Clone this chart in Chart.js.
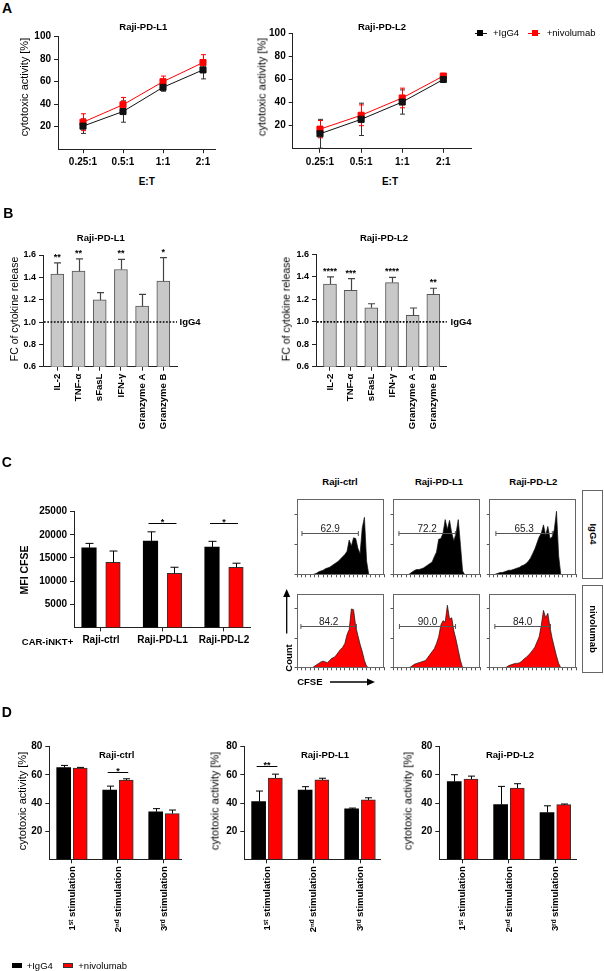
<!DOCTYPE html>
<html><head><meta charset="utf-8"><title>Figure</title>
<script src="https://cdn.jsdelivr.net/npm/chart.js@4.4.1/dist/chart.umd.min.js"></script>
<style>
html,body{margin:0;padding:0;background:#fff}
body{width:604px;height:971px;position:relative;overflow:hidden;font-family:"Liberation Sans",Arial,sans-serif;color:#000}
.t{position:absolute;white-space:nowrap;line-height:1}
canvas{position:absolute}
.frame{position:absolute;border:1px solid #666;box-sizing:border-box}
.sw{position:absolute}
</style></head><body>
<script>
// ---------------- DATA ----------------
const ratioLabels = ['0.25:1', '0.5:1', '1:1', '2:1'];
const aL1IgG4 = [20.5, 33.5, 55, 70.5];
const aL1IgG4Sd = [6.5, 9.5, 3.5, 8];
const aL1Nivo = [24, 39.5, 60, 77];
const aL1NivoSd = [7.5, 6.5, 5, 7];
const aL2IgG4 = [13, 25.5, 40.5, 60];
const aL2IgG4Sd = [12.5, 14, 10.5, 2];
const aL2Nivo = [17, 29, 44, 63];
const aL2NivoSd = [7.5, 9, 8.5, 1.2];
const aTicks = [20, 40, 60, 80, 100];

const cytokines = ['IL-2', 'TNF-α', 'sFasL', 'IFN-γ', 'Granzyme A', 'Granzyme B'];
const bL1Fc = [1.43, 1.455, 1.198, 1.47, 1.142, 1.366];
const bL1Sd = [0.1, 0.11, 0.065, 0.09, 0.105, 0.21];
const bL1Sig = ['**', '**', '', '**', '', '*'];
const bL2Fc = [1.337, 1.28, 1.125, 1.35, 1.057, 1.245];
const bL2Sd = [0.063, 0.105, 0.036, 0.047, 0.066, 0.054];
const bL2Sig = ['****', '***', '', '****', '', '**'];
const bTicks = [0.6, 0.8, 1.0, 1.2, 1.4, 1.6];

const targets = ['Raji-ctrl', 'Raji-PD-L1', 'Raji-PD-L2'];
const cIgG4 = [17200, 18650, 17350];
const cIgG4Sd = [950, 2000, 1250];
const cNivo = [14050, 11700, 13000];
const cNivoSd = [2450, 1300, 870];
const cTicks = [5000, 10000, 15000, 20000, 25000];

const cfseBins = [0,2.5,5,7.5,10,12.5,15,17.5,20,22.5,25,27.5,30,32.5,35,37.5,40,42.5,45,47.5,50,52.5,55,57.5,60,62.5,65,67.5,70,72.5,75,77.5,80,82.5,85,87.5,90,92.5,95,97.5,100];
const histCtrlIgG4 = [0,0,0,0,0,0,0,0,1,2,4,5,6,8,9,10,12,14,16,18,21,24,27,31,46,38,49,48,35,28,62,76,18,0,0,0,0,0,0,0,0];
const histL1IgG4 = [0,0,0,0,0,0,0,0,2,4,6,7,7,8,9,11,13,15,17,24,30,47,48,55,73,60,72,55,45,55,73,40,5,0,0,0,0,0,0,0,0];
const histL2IgG4 = [0,0,0,1,2,3,3,4,5,6,6,7,8,9,10,12,13,15,18,22,28,34,42,50,55,66,52,64,48,50,60,84,25,0,0,0,0,0,0,0,0];
const histCtrlNivo = [0,0,0,0,0,0,0,0,2,4,6,8,9,8,7,10,13,14,17,21,25,28,33,45,52,80,79,56,44,32,22,10,2,0,0,0,0,0,0,0,0];
const histL1Nivo = [0,0,0,0,0,0,0,0,1,3,5,6,7,8,9,10,14,18,22,26,33,42,58,64,62,85,66,68,50,38,24,10,0,0,0,0,0,0,0,0,0];
const histL2Nivo = [0,0,0,0,0,0,0,0,1,3,4,5,6,6,7,9,12,14,17,20,24,28,35,42,58,78,68,74,55,40,28,16,6,0,0,0,0,0,0,0,0];
const gateRanges = [[5.7,70.5],[6.8,71.7],[7.6,72.7],[4.5,68.3],[7.4,71.9],[6.4,70.6]];
const gatePct = ['62.9','72.2','65.3','84.2','90.0','84.0'];

const stimLabels = ['1\u02E2\u1D57 stimulation', '2\u207F\u1D48 stimulation', '3\u02B3\u1D48 stimulation'];
const dCtrlIgG4 = [65.2, 49.2, 33.8];
const dCtrlIgG4Sd = [1.5, 2.8, 2.2];
const dCtrlNivo = [64.8, 56.3, 32.5];
const dCtrlNivoSd = [0.5, 0.9, 2.5];
const dL1IgG4 = [41, 49.2, 35.8];
const dL1IgG4Sd = [7.5, 2.4, 0.6];
const dL1Nivo = [57.7, 56.4, 42.2];
const dL1NivoSd = [2.8, 1.2, 1.5];
const dL2IgG4 = [55.2, 38.8, 33.2];
const dL2IgG4Sd = [4.9, 13, 4.8];
const dL2Nivo = [57, 50.6, 38.8];
const dL2NivoSd = [2.1, 3.1, 0.5];
const dTicks = [20, 40, 60, 80];

// ---------------- HELPERS ----------------
const FONT = "'Liberation Sans', Arial, sans-serif";
Chart.defaults.font.family = FONT;
Chart.defaults.color = '#000';
const RED = '#ff0000';

function txt(s, x, y, size, opt = {}) {
  const d = document.createElement('div');
  d.className = 't';
  d.textContent = s;
  d.style.left = x + 'px'; d.style.top = y + 'px';
  d.style.fontSize = size + 'px';
  d.style.fontWeight = opt.bold ? 'bold' : 'normal';
  const tr = opt.left ? 'translate(0,-50%)' : 'translate(-50%,-50%)';
  d.style.transform = tr + (opt.rot ? ` rotate(${opt.rot}deg)` : '');
  document.body.appendChild(d);
  return d;
}
function rect(x, y, w, h, bg, border) {
  const d = document.createElement('div');
  d.className = 'sw';
  Object.assign(d.style, {left: x + 'px', top: y + 'px', width: w + 'px', height: h + 'px', background: bg, boxSizing: 'border-box'});
  if (border) d.style.border = border;
  document.body.appendChild(d);
  return d;
}

const errorBars = {
  id: 'errorBars',
  draw(chart, when) {
    const o = chart.options.plugins.errorBars || {};
    if (!!o.before !== when) return;
    const ctx = chart.ctx, ys = chart.scales.y;
    chart.data.datasets.forEach((ds, di) => {
      if (!ds.errors) return;
      const meta = chart.getDatasetMeta(di);
      ctx.save();
      ctx.strokeStyle = ds.errColor || '#000';
      ctx.lineWidth = ds.errWidth || 1;
      meta.data.forEach((el, i) => {
        const v = ds.data[i].y, e = ds.errors[i];
        const x = Math.round(el.x) + 0.5;
        const yt = ys.getPixelForValue(v + e);
        const yb = ds.errBoth ? ys.getPixelForValue(Math.max(v - e, ys.min)) : ys.getPixelForValue(v);
        const c = (ds.capWidth || 6) / 2;
        ctx.beginPath();
        ctx.moveTo(x, yb); ctx.lineTo(x, yt);
        ctx.moveTo(x - c, yt); ctx.lineTo(x + c, yt);
        if (ds.errBoth && v - e > ys.min) { ctx.moveTo(x - c, yb); ctx.lineTo(x + c, yb); }
        ctx.stroke();
      });
      ctx.restore();
    });
  },
  beforeDatasetsDraw(chart) { this.draw(chart, true); },
  afterDatasetsDraw(chart) { this.draw(chart, false); }
};

const sigPlugin = {
  id: 'sig',
  afterDatasetsDraw(chart, args, o) {
    const ctx = chart.ctx, ys = chart.scales.y;
    ctx.save();
    ctx.fillStyle = '#000'; ctx.strokeStyle = '#000'; ctx.lineWidth = 1;
    ctx.textAlign = 'center'; ctx.textBaseline = 'alphabetic';
    ctx.font = 'bold 9px ' + FONT;
    if (o.stars) {
      const ds = chart.data.datasets[0], meta = chart.getDatasetMeta(0);
      o.stars.forEach((s, i) => {
        if (!s) return;
        const top = ys.getPixelForValue(ds.data[i].y + ds.errors[i]);
        ctx.fillText(s, meta.data[i].x, top - 3);
      });
    }
    if (o.brackets) {
      const m0 = chart.getDatasetMeta(0), m1 = chart.getDatasetMeta(1);
      o.brackets.forEach(b => {
        const y = Math.round(ys.getPixelForValue(b.level)) + 0.5;
        const x0 = m0.data[b.i].x - 2, x1 = m1.data[b.i].x + 2;
        ctx.beginPath(); ctx.moveTo(x0, y); ctx.lineTo(x1, y); ctx.stroke();
        ctx.fillText(b.text, (x0 + x1) / 2, y + 1);
      });
    }
    ctx.restore();
  }
};

const refLine = {
  id: 'refLine',
  afterDatasetsDraw(chart, args, o) {
    if (o.value == null) return;
    const ctx = chart.ctx, y = chart.scales.y.getPixelForValue(o.value);
    const a = chart.chartArea;
    ctx.save();
    ctx.strokeStyle = '#000'; ctx.lineWidth = 1.7; ctx.setLineDash([1.7, 1.6]);
    ctx.beginPath(); ctx.moveTo(a.left + 1, y); ctx.lineTo(a.right, y); ctx.stroke();
    ctx.restore();
  }
};

const flowDeco = {
  id: 'flowDeco',
  afterDraw(chart, args, o) {
    if (!o.gate) return;
    const ctx = chart.ctx, a = chart.chartArea, xs = chart.scales.x, ys = chart.scales.y;
    ctx.save();
    ctx.strokeStyle = '#666'; ctx.lineWidth = 1;
    ctx.strokeRect(Math.round(a.left) + 0.5, Math.round(a.top) + 0.5, Math.round(a.right - a.left) - 1, Math.round(a.bottom - a.top) - 1);
    const y = Math.round(ys.getPixelForValue(o.level)) + 0.5;
    const x0 = xs.getPixelForValue(o.gate[0]), x1 = xs.getPixelForValue(o.gate[1]);
    ctx.strokeStyle = '#555';
    ctx.beginPath(); ctx.moveTo(x0, y); ctx.lineTo(x1, y);
    ctx.moveTo(x0, y - 2.5); ctx.lineTo(x0, y + 2.5);
    ctx.moveTo(x1, y - 2.5); ctx.lineTo(x1, y + 2.5);
    ctx.stroke();
    ctx.fillStyle = '#222'; ctx.font = '10px ' + FONT; ctx.textAlign = 'center'; ctx.textBaseline = 'alphabetic';
    ctx.fillText(o.pct, (x0 + x1) / 2, y - 1.5);
    ctx.restore();
  }
};
Chart.register(errorBars, sigPlugin, refLine, flowDeco);

function mk(area, m, config) {
  const cl = Math.floor(area.l - m.l), ct = Math.floor(area.t - m.t);
  const w = Math.ceil(area.r + m.r - cl), h = Math.ceil(area.b + m.b - ct);
  const yW = area.l - cl, padTop = area.t - ct, padRight = cl + w - area.r, xH = ct + h - area.b;
  const c = document.createElement('canvas');
  c.width = w; c.height = h;
  c.style.left = cl + 'px'; c.style.top = ct + 'px'; c.style.width = w + 'px'; c.style.height = h + 'px';
  document.body.appendChild(c);
  const o = config.options;
  o.responsive = false; o.maintainAspectRatio = false; o.animation = false; o.devicePixelRatio = 1;
  o.layout = {padding: {left: 0, top: padTop, right: padRight, bottom: 0}};
  o.scales.x.afterFit = ax => { ax.height = xH; };
  o.scales.y.afterFit = ax => { ax.width = yW; };
  o.plugins = Object.assign({legend: {display: false}, tooltip: {enabled: false}}, o.plugins || {});
  return new Chart(c, config);
}

const AX = '#222';
function yScale(min, max, ticks, size, fmt) {
  return {
    type: 'linear', min, max,
    afterBuildTicks: ax => { ax.ticks = ticks.map(v => ({value: v})); },
    ticks: {font: {size, weight: 'bold'}, color: '#000', padding: 3, callback: fmt},
    grid: {display: true, drawOnChartArea: false, drawTicks: true, tickLength: 4, color: AX, lineWidth: 1},
    border: {display: true, color: AX, width: 1}
  };
}
function xScale(min, max, labels, size, rot) {
  return {
    type: 'linear', min, max, offset: false,
    afterBuildTicks: ax => { ax.ticks = labels.map((_, i) => ({value: i})); },
    ticks: {autoSkip: false, font: {size, weight: 'bold'}, color: '#000', padding: 3,
            maxRotation: rot, minRotation: rot, callback: v => labels[v]},
    grid: {display: true, drawOnChartArea: false, drawTicks: true, tickLength: 4, color: AX, offset: false},
    border: {display: true, color: AX, width: 1}
  };
}

// ---------------- PANEL A ----------------
function lineDs(vals, sd, color, errColor) {
  return {data: vals.map((v, i) => ({x: i, y: v})), errors: sd, errBoth: true, errColor, capWidth: 5,
          borderColor: color, backgroundColor: color, pointBackgroundColor: color, pointBorderColor: color,
          borderWidth: 1, pointStyle: 'rect', pointRadius: 4.3, tension: 0};
}
function aChart(area, xr, dI, sI, dN, sN) {
  mk(area, {l: 40, t: 12, r: 10, b: 22}, {
    type: 'line',
    data: {datasets: [lineDs(dI, sI, '#111', '#333'), lineDs(dN, sN, RED, RED)]},
    options: {scales: {x: xScale(xr[0], xr[1], ratioLabels, 10, 0), y: yScale(0, 100, aTicks, 10, v => v)},
              plugins: {errorBars: {before: true}}}
  });
}
aChart({l: 58, t: 36.7, r: 215, b: 149.2}, [-0.625, 3.3], aL1IgG4, aL1IgG4Sd, aL1Nivo, aL1NivoSd);
aChart({l: 292.7, t: 33.3, r: 471.7, b: 148.8}, [-0.664, 3.69], aL2IgG4, aL2IgG4Sd, aL2Nivo, aL2NivoSd);

txt('A', 7, 8, 14, {bold: true});
txt('Raji-PD-L1', 143.3, 26.7, 9.5, {bold: true});
txt('Raji-PD-L2', 382, 26.7, 9.5, {bold: true});
txt('E:T', 146.7, 181.7, 10, {bold: true});
txt('E:T', 390, 181.7, 10, {bold: true});
txt('cytotoxic activity [%]', 24, 87, 11, {rot: -90});
txt('cytotoxic activity [%]', 261.7, 86.5, 11, {rot: -90});
// legend A
rect(475, 32.8, 12, 1, '#111');
rect(477, 30, 6, 6, '#000');
txt('+IgG4', 493, 33.3, 9.5, {left: true});
rect(528, 32.8, 12, 1, RED);
rect(531.7, 30, 6, 6, RED);
txt('+nivolumab', 546.7, 33.3, 9.5, {left: true});

// ---------------- PANEL B ----------------
function bChart(area, xr, vals, sd, sig) {
  mk(area, {l: 40, t: 18, r: 8, b: 70}, {
    type: 'bar',
    data: {datasets: [{data: vals.map((v, i) => ({x: i, y: v})), errors: sd, errColor: '#444', errWidth: 1.2, capWidth: 7,
                       backgroundColor: '#c8c8c8', borderColor: '#555', borderWidth: 1, barThickness: 13, grouped: false,
                       borderSkipped: 'bottom'}]},
    options: {scales: {x: xScale(xr[0], xr[1], cytokines, 9.5, 90), y: yScale(0.6, 1.6, bTicks, 9, v => v.toFixed(1))},
              plugins: {errorBars: {}, sig: {stars: sig}, refLine: {value: 1}}}
  });
}
bChart({l: 43, t: 255, r: 177, b: 366.7}, [-0.675, 5.646], bL1Fc, bL1Sd, bL1Sig);
bChart({l: 316, t: 254.5, r: 446.7, b: 366.7}, [-0.676, 5.647], bL2Fc, bL2Sd, bL2Sig);
txt('B', 8.3, 213, 14, {bold: true});
txt('Raji-PD-L1', 100.8, 238.3, 9.5, {bold: true});
txt('Raji-PD-L2', 384, 238.3, 9.5, {bold: true});
txt('FC of cytokine release', 14, 309, 10.5, {rot: -90});
txt('FC of cytokine release', 286, 309, 10.5, {rot: -90});
txt('IgG4', 179.5, 321.7, 9.5, {bold: true, left: true});
txt('IgG4', 450.5, 321.7, 9.5, {bold: true, left: true});

// ---------------- PANEL C ----------------
const dodgeC = 0.195;
mk({l: 74, t: 511.7, r: 250, b: 627.4}, {l: 55, t: 18, r: 8, b: 24}, {
  type: 'bar',
  data: {datasets: [
    {data: cIgG4.map((v, i) => ({x: i - dodgeC, y: v})), errors: cIgG4Sd, errColor: '#000', capWidth: 8,
     backgroundColor: '#000', borderColor: '#000', borderWidth: 0, barThickness: 14.5, grouped: false},
    {data: cNivo.map((v, i) => ({x: i + dodgeC, y: v})), errors: cNivoSd, errColor: '#000', capWidth: 8,
     backgroundColor: RED, borderColor: '#333', borderWidth: 1, barThickness: 14.5, grouped: false, borderSkipped: 'bottom'}
  ]},
  options: {scales: {x: xScale(-0.439, 2.423, targets, 10, 0), y: yScale(0, 25000, cTicks, 10, v => String(v))},
            plugins: {errorBars: {}, sig: {brackets: [{i: 1, text: '*', level: 22500}, {i: 2, text: '*', level: 22500}]}}}
});
txt('C', 6.7, 461.7, 14, {bold: true});
txt('MFI CFSE', 24, 570, 10.5, {bold: true, rot: -90});
txt('CAR-iNKT+', 47.5, 641.7, 9.5, {bold: true});

// flow histograms
const cols = [[297, 385.5], [393, 481.7], [489.3, 577.5]];
const rows = [[490, 579.3], [585, 672.7]];
const hists = [histCtrlIgG4, histL1IgG4, histL2IgG4, histCtrlNivo, histL1Nivo, histL2Nivo];
hists.forEach((h, k) => {
  const r = Math.floor(k / 3), c = k % 3;
  const area = {l: cols[c][0], r: cols[c][1], t: rows[r][0], b: rows[r][1]};
  mk(area, {l: 5, t: 1, r: 1, b: 5}, {
    type: 'line',
    data: {datasets: [{data: h.map((v, i) => ({x: cfseBins[i], y: v})), fill: 'origin',
                       backgroundColor: r === 0 ? '#000' : RED, borderColor: '#111', borderWidth: 0.7,
                       pointRadius: 0, tension: 0}]},
    options: {scales: {
      x: {type: 'linear', min: 0, max: 100, ticks: {stepSize: 5, callback: () => ''},
          grid: {drawOnChartArea: false, tickLength: 2.5, color: '#555'}, border: {color: '#666'}},
      y: {type: 'linear', min: 0, max: 100, ticks: {stepSize: 20, callback: () => ''},
          grid: {drawOnChartArea: false, tickLength: 2.5, color: '#555'}, border: {color: '#666'}}},
      plugins: {flowDeco: {gate: gateRanges[k], pct: gatePct[k], level: r === 0 ? 55 : 57}}}
  });
});
txt('Raji-ctrl', 340, 481.7, 9.5, {bold: true});
txt('Raji-PD-L1', 439, 481.7, 9.5, {bold: true});
txt('Raji-PD-L2', 533.3, 481.7, 9.5, {bold: true});
const f1 = document.createElement('div'); f1.className = 'frame';
Object.assign(f1.style, {left: '582px', top: '490px', width: '21px', height: '89px'}); document.body.appendChild(f1);
const f2 = document.createElement('div'); f2.className = 'frame';
Object.assign(f2.style, {left: '582px', top: '585px', width: '21px', height: '88px'}); document.body.appendChild(f2);
txt('IgG4', 592.5, 534, 9.5, {bold: true, rot: 90});
txt('nivolumab', 592.5, 629, 9.5, {bold: true, rot: 90});
txt('Count', 288.8, 658.3, 9.5, {bold: true, rot: -90});
txt('CFSE', 309.8, 682.3, 9.5, {bold: true});
document.body.insertAdjacentHTML('beforeend',
  '<svg style="position:absolute;left:0;top:0" width="604" height="971">' +
  '<line x1="286.7" y1="633.5" x2="286.7" y2="595" stroke="#000" stroke-width="1.3"/>' +
  '<polygon points="283.2,597 290.2,597 286.7,589" fill="#000"/>' +
  '<line x1="330" y1="682" x2="368" y2="682" stroke="#000" stroke-width="1.3"/>' +
  '<polygon points="367,678.5 367,685.5 375,682" fill="#000"/></svg>');

// ---------------- PANEL D ----------------
const dodgeD = 0.18;
function dChart(area, xr, dI, sI, dN, sN, brackets) {
  mk(area, {l: 40, t: 18, r: 8, b: 80}, {
    type: 'bar',
    data: {datasets: [
      {data: dI.map((v, i) => ({x: i - dodgeD, y: v})), errors: sI, errColor: '#000', capWidth: 7,
       backgroundColor: '#000', borderColor: '#000', borderWidth: 0, barThickness: 14, grouped: false},
      {data: dN.map((v, i) => ({x: i + dodgeD, y: v})), errors: sN, errColor: '#000', capWidth: 7,
       backgroundColor: RED, borderColor: '#333', borderWidth: 1, barThickness: 14, grouped: false, borderSkipped: 'bottom'}
    ]},
    options: {scales: {x: xScale(xr[0], xr[1], stimLabels, 9.5, 90), y: yScale(0, 80, dTicks, 10, v => v)},
              plugins: {errorBars: {}, sig: {brackets}}}
  });
}
dChart({l: 49.3, t: 746.7, r: 181, b: 859.3}, [-0.493, 2.37], dCtrlIgG4, dCtrlIgG4Sd, dCtrlNivo, dCtrlNivoSd, [{i: 1, text: '*', level: 62}]);
dChart({l: 244.3, t: 746.7, r: 380, b: 859.3}, [-0.488, 2.43], dL1IgG4, dL1IgG4Sd, dL1Nivo, dL1NivoSd, [{i: 0, text: '**', level: 66.5}]);
dChart({l: 439.3, t: 746.7, r: 576.7, b: 859.3}, [-0.502, 2.46], dL2IgG4, dL2IgG4Sd, dL2Nivo, dL2NivoSd, []);
txt('D', 6.7, 712, 14, {bold: true});
txt('Raji-ctrl', 116.7, 755, 9.5, {bold: true});
txt('Raji-PD-L1', 325, 755, 9.5, {bold: true});
txt('Raji-PD-L2', 510, 755, 9.5, {bold: true});
txt('cytotoxic activity [%]', 21.7, 800.8, 11, {rot: -90});
txt('cytotoxic activity [%]', 215, 800.8, 11, {rot: -90});
txt('cytotoxic activity [%]', 408.3, 800.8, 11, {rot: -90});

// bottom legend
rect(11.7, 963.3, 10, 5, '#000');
txt('+IgG4', 26.7, 966, 9.5, {left: true});
rect(62.7, 963.3, 10, 5, RED, '1px solid #333');
txt('+nivolumab', 78.3, 966, 9.5, {left: true});
</script>
</body></html>
